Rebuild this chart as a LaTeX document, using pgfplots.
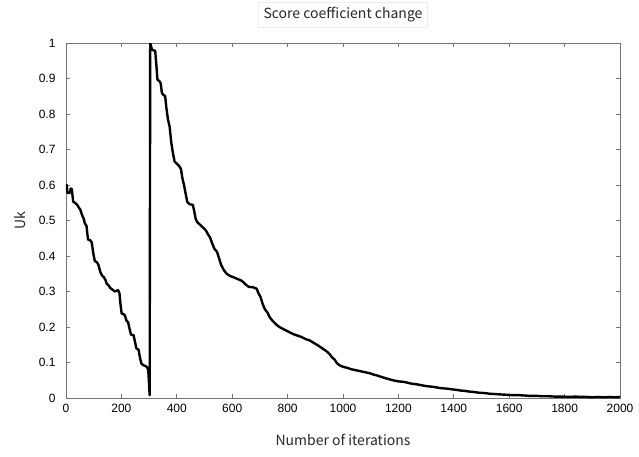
\documentclass[border=0pt]{standalone}
\usepackage{pgfplots}
\pgfplotsset{compat=1.18}
\usepackage{fontspec}
\setmainfont{Liberation Sans}
\newfontfamily\labelfont{Noto Sans CJK SC}

\pgfplotstableread{
x y
0 0.600
3 0.600
5 0.578
14 0.578
17 0.590
21 0.588
26 0.553
32 0.550
40 0.545
45 0.538
52 0.530
58 0.515
64 0.505
68 0.492
74 0.485
77 0.462
80 0.446
88 0.444
93 0.438
99 0.405
104 0.386
112 0.382
117 0.375
124 0.355
130 0.345
137 0.340
142 0.333
147 0.322
153 0.318
160 0.310
168 0.305
176 0.300
182 0.302
188 0.304
193 0.295
197 0.262
201 0.238
208 0.236
213 0.232
218 0.218
224 0.214
229 0.196
235 0.178
244 0.177
248 0.162
254 0.140
262 0.136
266 0.118
272 0.097
280 0.092
288 0.090
294 0.085
297 0.078
302 0.008
304 1.000
309 0.985
313 0.980
322 0.978
327 0.930
330 0.897
338 0.892
342 0.886
346 0.860
350 0.855
358 0.850
362 0.820
368 0.785
374 0.765
380 0.720
386 0.690
392 0.666
400 0.660
408 0.654
415 0.645
420 0.620
426 0.600
432 0.575
438 0.552
446 0.546
458 0.544
462 0.530
468 0.505
474 0.495
484 0.488
495 0.480
505 0.472
512 0.462
520 0.452
528 0.435
536 0.420
545 0.412
552 0.395
560 0.375
570 0.360
580 0.350
592 0.344
605 0.340
620 0.335
635 0.330
648 0.320
660 0.313
675 0.312
688 0.308
695 0.295
702 0.285
710 0.265
718 0.250
728 0.240
735 0.228
745 0.218
755 0.210
765 0.203
775 0.198
790 0.192
805 0.186
820 0.180
835 0.176
850 0.172
865 0.166
880 0.162
895 0.155
910 0.148
925 0.140
940 0.132
950 0.125
960 0.115
970 0.108
978 0.098
988 0.092
1000 0.088
1015 0.085
1030 0.081
1048 0.078
1066 0.075
1084 0.072
1100 0.069
1110 0.066
1121 0.064
1140 0.059
1157 0.055
1175 0.051
1186 0.049
1199 0.047
1212 0.046
1223 0.045
1238 0.042
1250 0.040
1263 0.039
1277 0.037
1290 0.035
1305 0.033
1320 0.032
1337 0.030
1350 0.028
1365 0.027
1380 0.026
1397 0.024
1410 0.023
1425 0.021
1440 0.020
1457 0.018
1472 0.017
1490 0.015
1510 0.014
1530 0.012
1550 0.011
1570 0.010
1592 0.009
1614 0.008
1635 0.008
1655 0.007
1676 0.006
1698 0.006
1720 0.005
1740 0.005
1765 0.004
1794 0.004
1815 0.003
1840 0.004
1860 0.003
1879 0.003
1900 0.002
1920 0.003
1940 0.002
1960 0.003
1980 0.002
2000 0.003
}\uk

\begin{document}
\begin{tikzpicture}
\path[use as bounding box] (-66pt,-58pt) rectangle (573pt,398pt);
\begin{axis}[
    scale only axis,
    width=554pt,
    height=355pt,
    xmin=0, xmax=2000,
    ymin=0, ymax=1,
    xtick={0,200,...,2000},
    ytick={0,0.1,...,1},
    xticklabel style={/pgf/number format/1000 sep=, yshift=-3pt},
    yticklabel style={/pgf/number format/fixed,/pgf/number format/precision=1, xshift=-7pt},
    /pgf/number format/assume math mode=true,
    tick label style={font=\fontsize{12}{14}\selectfont, text=black},
    tick align=inside,
    major tick length=4pt,
    tick style={black!55, line width=0.8pt},
    axis line style={black!55, line width=0.9pt},
    xlabel={\labelfont Number of iterations},
    ylabel={\labelfont Uk},
    label style={font=\fontsize{14}{16}\selectfont, text=black!85},
    xlabel style={at={(axis description cs:0.5,0)}, anchor=center, yshift=-42pt},
    ylabel style={at={(axis description cs:0,0.5)}, anchor=center, yshift=46pt},
    title={\labelfont Score coefficient change},
    title style={font=\fontsize{14}{16}\selectfont, text=black!85,
        draw=black!7, inner sep=5pt, at={(0.5,1)}, anchor=south, yshift=10pt},
]
\addplot[black, line width=2.4pt, line join=round, mark=none] table[x=x, y=y] {\uk};
\end{axis}
\end{tikzpicture}
\end{document}
